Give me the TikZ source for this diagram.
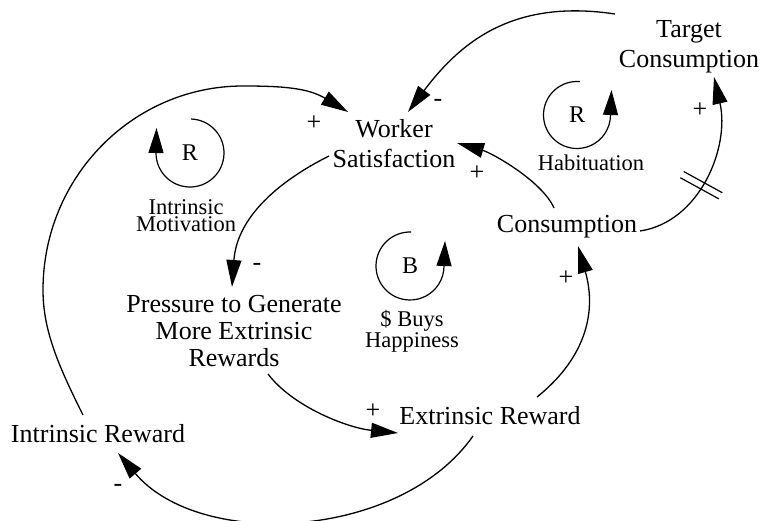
\documentclass[tikz,border=0pt]{standalone}
\usepackage{fontspec}
\setmainfont{Liberation Serif}
\usetikzlibrary{arrows.meta,calc}
\begin{document}
\begin{tikzpicture}[x=1pt,y=-1pt,
  var/.style={inner sep=0pt, align=center, font=\fontsize{26}{30}\selectfont},
  lbl/.style={inner sep=0pt, align=center, font=\fontsize{22.5}{21}\selectfont},
  sgn/.style={inner sep=0pt, font=\fontsize{26}{28}\selectfont},
  lt/.style={inner sep=0pt, font=\fontsize{24}{26}\selectfont},
  link/.style={line width=1.3pt, -{Triangle[length=27pt,width=15pt]}},
  loopc/.style={line width=1.2pt, -{Triangle[length=25pt,width=15pt]}},
  bar/.style={line width=1.2pt},
]
\useasboundingbox (0,0) rectangle (760,521);

% variables
\node[var] (tc) at (689,47) {Target\\Consumption};
\node[var] (ws) at (394,144) {Worker\\Satisfaction};
\node[var] (co) at (567,227) {Consumption};
\node[var,font=\fontsize{26}{27}\selectfont] (pr) at (234,331) {Pressure to Generate\\More Extrinsic\\Rewards};
\node[var] (er) at (490,416) {Extrinsic Reward};
\node[var] (ir) at (98,434) {Intrinsic Reward};

% loop markers
\node[lt] (rh) at (577,115) {R};
\node[lbl] (hab) at (591,163) {Habituation};
\node[lt] (ri) at (190,153) {R};
\node[lbl,font={\fontsize{22.5}{17}\selectfont\lineskiplimit=-30pt}] (im) at (186,216) {Intrinsic\\Motivation};
\node[lt] (bb) at (410,266) {B};
\node[lbl] (bh) at (412,331) {\$ Buys\\Happiness};

\draw[loopc] (rh) ++(-85:33.5) arc[start angle=-85, end angle=-360, radius=33.5] -- ++(1,-25);
\draw[loopc] (ri) ++(-88:34) arc[start angle=-88, end angle=180, radius=34] -- ++(0.5,-25);
\draw[loopc] (bb) ++(-88:34) arc[start angle=-88, end angle=-360, radius=34] -- ++(1,-25);

% links
\draw[link] ($(tc)+(-74,-33)$) .. controls (515,-1) and (462,40) .. ($(ws)+(14,-32)$);
\draw[link] ($(ir)+(-15,-19)$) .. controls (58,365) and (43,330) .. (43,290)
   .. controls (43,177) and (133,86) .. (243,86)
   .. controls (283,86) and (308,88) .. ($(ws)+(-46,-32)$);
\draw[link] ($(ws)+(-65,12)$) .. controls (279,181) and (237,217) .. ($(pr)+(-2,-44)$);
\draw[link] ($(co)+(-13,-19)$) .. controls (542,181) and (492,153) .. ($(ws)+(63,-1)$);
\draw[link] ($(co)+(73,4)$) .. controls (700,222) and (730,147) .. coordinate[pos=0.45] (dly) ($(tc)+(25,30)$);
\draw[link] ($(er)+(47,-19)$) .. controls (582,361) and (598,316) .. ($(co)+(11,19)$);
\draw[link] ($(pr)+(34,43)$) .. controls (293,407) and (348,428) .. ($(er)+(-92,17)$);
\draw[link] ($(er)+(-17,20)$) .. controls (400,540) and (200,550) .. ($(ir)+(20,19)$);

% delay mark
\draw[bar] ($(dly)+(-1.7,3.1)+(-19.3,-10.6)$) -- ($(dly)+(-1.7,3.1)+(19.3,10.6)$);
\draw[bar] ($(dly)+(1.7,-3.1)+(-19.3,-10.6)$) -- ($(dly)+(1.7,-3.1)+(19.3,10.6)$);

% polarities
\node[sgn] (s1) at (438,103) {-};
\node[sgn] (s2) at (314,123) {+};
\node[sgn] (s3) at (477,173) {+};
\node[sgn] (s4) at (257,267) {-};
\node[sgn] (s5) at (700,110) {+};
\node[sgn] (s6) at (566,278) {+};
\node[sgn] (s7) at (373,411) {+};
\node[sgn] (s8) at (118,488) {-};
\end{tikzpicture}
\end{document}
